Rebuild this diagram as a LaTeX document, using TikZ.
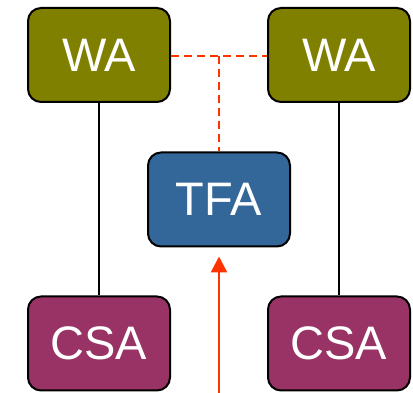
\documentclass[tikz,border=0pt]{standalone}
\usepackage{fontspec}
\setmainfont{Liberation Sans}
\usetikzlibrary{arrows.meta}
\definecolor{olivebox}{HTML}{808000}
\definecolor{bluebox}{HTML}{336699}
\definecolor{maroonbox}{HTML}{993366}
\definecolor{redline}{HTML}{FF3300}
\begin{document}
\begin{tikzpicture}[x=1pt,y=1pt,
  agent/.style={draw=black, line width=2pt, rounded corners=13pt,
    minimum width=142pt, minimum height=94pt, inner sep=0pt,
    text=white, font=\fontsize{47}{47}\selectfont},
  link/.style={draw=black, line width=1.5pt},
  redlink/.style={draw=redline, line width=2pt, dash pattern=on 8pt off 5pt},
  redarrow/.style={draw=redline, line width=2.5pt, -{Triangle[length=16pt,width=16pt]}}]
\useasboundingbox (0,0) rectangle (413,393);
\node[agent, fill=olivebox] (wa1) at (99,338) {WA};
\node[agent, fill=olivebox] (wa2) at (339,338) {WA};
\node[agent, fill=bluebox] (tfa) at (219,193.5) {TFA};
\node[agent, fill=maroonbox] (csa1) at (99,49.5) {CSA};
\node[agent, fill=maroonbox] (csa2) at (339,49.5) {CSA};
\coordinate (mid) at (219,337);
\coordinate (src) at (219,0);
\draw[link] (wa1) -- (csa1);
\draw[link] (wa2) -- (csa2);
\draw[redlink] (wa1.east |- mid) -- (wa2.west |- mid);
\draw[redlink] (mid) -- (tfa.north);
\draw[redarrow] (src) -- ([yshift=-9pt]tfa.south);
\end{tikzpicture}
\end{document}
